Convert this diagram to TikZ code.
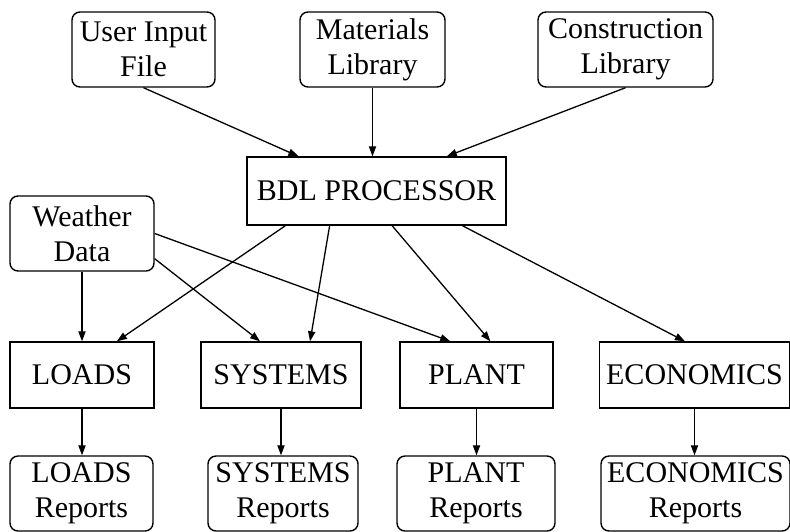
\documentclass[tikz,border=0pt]{standalone}
\usepackage{fontspec}
\setmainfont{Liberation Serif}
\usetikzlibrary{calc, arrows.meta}

\begin{document}
\begin{tikzpicture}[x=0.5pt, y=-0.5pt,
    every node/.style={font=\fontsize{15pt}{17.5pt}\selectfont, align=center, inner sep=0pt, line width=0.7pt},
    fileBox/.style={draw, rounded corners=4pt, minimum height=75*\px},
    moduleBox/.style={draw, rectangle, minimum height=66*\px},
    flowArrow/.style={line width=0.65pt, -{Triangle[length=5pt, width=3.6pt]}}]
    % One pixel of the layout
    \def\px{0.5pt}

    \useasboundingbox (0,0) rectangle (790,531);

    % Input files
    \node[fileBox, minimum width=143*\px] (userFile) at (143.5,49.5) {User Input\\File};
    \node[fileBox, minimum width=145*\px] (matLib) at (372.5,49.5) {Materials\\Library};
    \node[fileBox, minimum width=175*\px] (conLib) at (625.5,49.5) {Construction\\Library};
    \node[fileBox, minimum width=144*\px] (weather) at (82,233.5) {Weather\\Data};

    % Processor
    \node[moduleBox, minimum width=259*\px, minimum height=68*\px] (bdl) at (376.5,191) {BDL PROCESSOR};

    % Simulation modules
    \node[moduleBox, minimum width=144*\px] (loads) at (82,375) {LOADS};
    \node[moduleBox, minimum width=160*\px] (systems) at (281,375) {SYSTEMS};
    \node[moduleBox, minimum width=153*\px] (plant) at (476.5,375) {PLANT};
    \node[moduleBox, minimum width=190*\px] (econ) at (694.5,375) {ECONOMICS};

    % Reports
    \node[fileBox, minimum width=143*\px] (loadsRep) at (81.5,493.5) {LOADS\\Reports};
    \node[fileBox, minimum width=150*\px] (systemsRep) at (283,493.5) {SYSTEMS\\Reports};
    \node[fileBox, minimum width=158*\px] (plantRep) at (476,493.5) {PLANT\\Reports};
    \node[fileBox, minimum width=189*\px] (econRep) at (695.5,493.5) {ECONOMICS\\Reports};

    % Inputs into the processor
    \draw[flowArrow] (userFile.south) -- ($(bdl.north west)!0.2!(bdl.north east)$);
    \draw[flowArrow] (matLib.south) -- (matLib.south |- bdl.north);
    \draw[flowArrow] (conLib.south) -- ($(bdl.north west)!0.77!(bdl.north east)$);

    % Processor to modules
    \draw[flowArrow] ($(bdl.south west)!0.15!(bdl.south east)$) -- ($(loads.north west)!0.74!(loads.north east)$);
    \draw[flowArrow] ($(bdl.south west)!0.32!(bdl.south east)$) -- ($(systems.north west)!0.68!(systems.north east)$);
    \draw[flowArrow] ($(bdl.south west)!0.56!(bdl.south east)$) -- ($(plant.north west)!0.59!(plant.north east)$);
    \draw[flowArrow] ($(bdl.south west)!0.83!(bdl.south east)$) -- ($(econ.north west)!0.45!(econ.north east)$);

    % Weather data to modules
    \draw[flowArrow] (weather.south) -- (weather.south |- loads.north);
    \draw[flowArrow] ($(weather.north east)!0.83!(weather.south east)$) -- ($(systems.north west)!0.37!(systems.north east)$);
    \draw[flowArrow] (weather.east) -- ($(plant.north west)!0.33!(plant.north east)$);

    % Modules to reports
    \foreach \m in {loads, systems, plant, econ}
        \draw[flowArrow] (\m.south) -- (\m.south |- \m Rep.north);

\end{tikzpicture}
\end{document}
